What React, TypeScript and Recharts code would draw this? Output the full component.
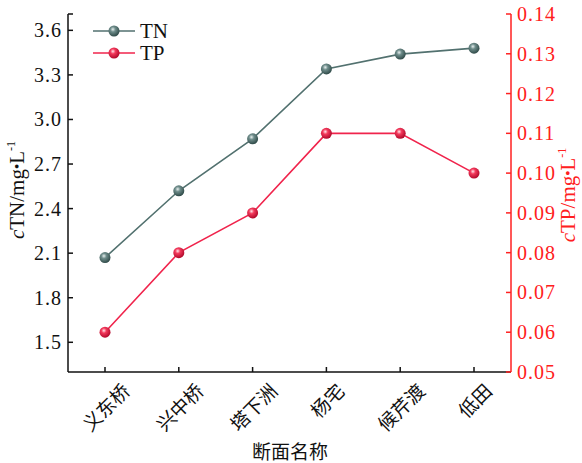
import React from "react";
import { LineChart, Line, XAxis, YAxis, Label } from "recharts";

const sites = ["义东桥", "兴中桥", "塔下洲", "杨宅", "候芹渡", "低田"];
const tnValues = [2.07, 2.52, 2.87, 3.34, 3.44, 3.48];
const tpValues = [0.06, 0.08, 0.09, 0.11, 0.11, 0.1];
const tnTicks = [1.5, 1.8, 2.1, 2.4, 2.7, 3.0, 3.3, 3.6, 3.71];
const tpTicks = [0.05, 0.06, 0.07, 0.08, 0.09, 0.1, 0.11, 0.12, 0.13, 0.14];

const data = sites.map((name, i) => ({ name, tn: tnValues[i], tp: tpValues[i] }));

const TN_COLOR = "#52716f";
const TP_COLOR = "#f0244c";
const AXIS_RED = "#ff2020";
const SERIF = "Liberation Serif";
const CJK = "Noto Sans CJK SC";

const Ball = (grad: string) => (props: any) => {
  const { cx, cy } = props;
  if (cx == null || cy == null) return null;
  return <circle cx={cx} cy={cy} r={5.5} fill={`url(#${grad})`} />;
};

const SiteTick = (props: any) => {
  const { x, y, payload } = props;
  const n = String(payload.value).length;
  const cy = y + 13 + (n + 1) * 6.6;
  return (
    <g transform={`translate(${x},${cy}) rotate(-45)`}>
      <text
        textAnchor="middle"
        dominantBaseline="central"
        fontSize={19}
        fontFamily={CJK}
        fill="#111"
      >
        {payload.value}
      </text>
    </g>
  );
};

const NumTick = (color: string, anchor: "start" | "end", fmt: (v: number) => string) => (props: any) => {
  const { x, y, payload } = props;
  return (
    <text
      x={x}
      y={y}
      dy={7}
      textAnchor={anchor}
      fontFamily={SERIF}
      fontSize={20}
      letterSpacing={1}
      fill={color}
    >
      {fmt(payload.value)}
    </text>
  );
};

const AxisTitle = (label: string, color: string, x: number, y: number) => () => (
  <text
    transform={`translate(${x},${y}) rotate(-90)`}
    textAnchor="middle"
    fill={color}
    fontFamily={SERIF}
    fontSize={21}
  >
    <tspan fontStyle="italic">c</tspan>
    <tspan>{label}/mg</tspan>
    <tspan fontSize={15} dy={-2}>•</tspan>
    <tspan dy={2}>L</tspan>
    <tspan fontSize={12} dy={-9}>-1</tspan>
  </text>
);

const XTitle = () => (
  <text x={290} y={459} textAnchor="middle" fontFamily={CJK} fontSize={19} fill="#111">
    断面名称
  </text>
);

const fmtTN = (v: number) => (v > 3.65 ? "" : v.toFixed(1));
const fmtTP = (v: number) => v.toFixed(2);

export default function App() {
  return (
    <div style={{ position: "absolute", left: 0, top: 0, background: "#fff" }}>
      <LineChart
        width={582}
        height={463}
        data={data}
        margin={{ top: 14, right: 0, left: 0, bottom: 0 }}
      >
        <defs>
          <radialGradient id="tnBall" cx="0.4" cy="0.35" r="0.65">
            <stop offset="0" stopColor="#e8f0ef" />
            <stop offset="0.35" stopColor="#6f8d8b" />
            <stop offset="1" stopColor="#2f4a48" />
          </radialGradient>
          <radialGradient id="tpBall" cx="0.4" cy="0.35" r="0.65">
            <stop offset="0" stopColor="#ffe6ea" />
            <stop offset="0.35" stopColor="#f33a5c" />
            <stop offset="1" stopColor="#b0082a" />
          </radialGradient>
        </defs>
        <XAxis
          dataKey="name"
          height={91}
          tick={<SiteTick />}
          tickSize={-5}
          tickMargin={0}
          interval={0}
          padding={{ left: 37, right: 37 }}
          stroke="#111"
          strokeWidth={1.5}
          tickLine={{ stroke: "#111", strokeWidth: 1.5 }}
        >
          <Label content={XTitle} />
        </XAxis>
        <YAxis
          yAxisId="tn"
          orientation="left"
          width={68}
          domain={[1.3, 3.71]}
          ticks={tnTicks}
          interval={0}
          tick={NumTick("#111", "end", fmtTN)}
          tickSize={-5}
          tickMargin={11}
          stroke="#111"
          strokeWidth={1.5}
          tickLine={{ stroke: "#111", strokeWidth: 1.5 }}
          allowDataOverflow
        >
          <Label content={AxisTitle("TN", "#111", 24, 190)} />
        </YAxis>
        <YAxis
          yAxisId="tp"
          orientation="right"
          width={71}
          domain={[0.05, 0.14]}
          ticks={tpTicks}
          interval={0}
          tick={NumTick(AXIS_RED, "start", fmtTP)}
          tickSize={-5}
          tickMargin={11}
          stroke={AXIS_RED}
          strokeWidth={1.5}
          tickLine={{ stroke: AXIS_RED, strokeWidth: 1.5 }}
          allowDataOverflow
        >
          <Label content={AxisTitle("TP", AXIS_RED, 575, 195)} />
        </YAxis>
        <Line
          yAxisId="tn"
          dataKey="tn"
          stroke={TN_COLOR}
          strokeWidth={1.6}
          dot={Ball("tnBall")}
          activeDot={false}
          isAnimationActive={false}
        />
        <Line
          yAxisId="tp"
          dataKey="tp"
          stroke={TP_COLOR}
          strokeWidth={1.6}
          dot={Ball("tpBall")}
          activeDot={false}
          isAnimationActive={false}
        />
        {/* legend */}
        <g>
          <line x1={93} x2={135} y1={31} y2={31} stroke={TN_COLOR} strokeWidth={1.6} />
          <circle cx={114} cy={31} r={5.5} fill="url(#tnBall)" />
          <text x={140} y={38} fontFamily={SERIF} fontSize={21} fill="#111">TN</text>
          <line x1={93} x2={135} y1={53} y2={53} stroke={TP_COLOR} strokeWidth={1.6} />
          <circle cx={114} cy={53} r={5.5} fill="url(#tpBall)" />
          <text x={140} y={60} fontFamily={SERIF} fontSize={21} fill="#111">TP</text>
        </g>
      </LineChart>
    </div>
  );
}
